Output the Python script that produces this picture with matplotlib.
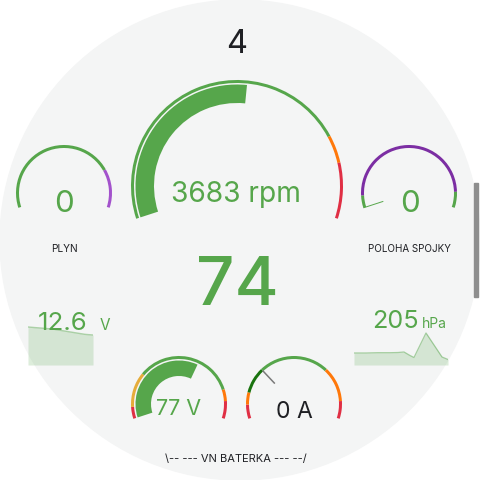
import matplotlib
matplotlib.use('Agg')
import matplotlib.pyplot as plt
from matplotlib.patches import Wedge, Circle, Rectangle
import numpy as np

plt.rcParams['font.family'] = ['Inter', 'DejaVu Sans']

# ---------------- data ----------------
gear = "4"
speed_value = 74

rpm_value = 3683
rpm_range = (0, 7000)
rpm_steps = [(0, 'green'), (5500, 'orange'), (6000, 'red')]

throttle_label = "PLYN"
throttle_value = 0
throttle_range = (0, 100)
throttle_steps = [(0, 'green'), (78, 'purple')]

clutch_label = "POLOHA SPOJKY"
clutch_value = 0
clutch_range = (0, 100)
clutch_steps = [(0, 'green'), (7, 'dark-purple'), (91, 'green')]

batt_value = 12.6
batt_series = [12.72, 12.71, 12.70, 12.69, 12.67, 12.65, 12.63, 12.61, 12.60]

pressure_value = 205
pressure_t = [0, 6, 12, 18, 22, 25, 28, 30, 36, 44, 47]
pressure_series = [192, 192, 192.3, 192.3, 192.5, 193, 189.5, 187.5, 212, 188, 185.5]

hv_voltage = 77
hv_range = (40, 100)
hv_steps = [(40, 'red'), (44, 'yellow'), (56, 'green'), (90, 'orange'), (94, 'red')]

hv_current = 0
cur_range = (-30, 70)
cur_steps = [(-30, 'red'), (-22, 'orange'), (-15, 'dark-green'), (0, 'green'), (40, 'orange'), (60, 'red')]

group_label = "\\-- --- VN BATERKA --- --/"

# ---------------- style ----------------
COL = {'green': '#56a64b', 'orange': '#ff780a', 'red': '#e02f44',
       'purple': '#a352cc', 'dark-purple': '#7c2ea3', 'dark-green': '#19730e',
       'yellow': '#e5ac3a'}
BG = '#f4f5f5'
DARK = '#1f2024'
A0, A1 = 198.0, -18.0

W = H = 480
fig = plt.figure(figsize=(4.8, 4.8), dpi=100, facecolor='white')

def px_axes(x0, y0, x1, y1, z=0):
    a = fig.add_axes([x0 / W, 1 - y1 / H, (x1 - x0) / W, (y1 - y0) / H], zorder=z)
    a.set_axis_off()
    a.patch.set_alpha(0)
    return a

# background
bg = px_axes(0, 0, W, H, z=0)
bg.set_xlim(0, W); bg.set_ylim(H, 0)
bg.add_patch(Circle((240, 240), 240, color=BG))
bg.add_patch(Rectangle((473.5, 183), 4.5, 114, color='#8e8e8e'))

# sparklines
sl = px_axes(28, 300, 93, 365, z=1)
xs = np.arange(len(batt_series))
sl.fill_between(xs, batt_series, 12.15, color=COL['green'], alpha=0.2, lw=0)
sl.plot(xs, batt_series, color=COL['green'], alpha=0.45, lw=1)
sl.set_xlim(0, len(batt_series) - 1); sl.set_ylim(12.15, 13.125)

sr = px_axes(354, 300, 448, 365, z=1)
sr.fill_between(pressure_t, pressure_series, 180, color=COL['green'], alpha=0.2, lw=0)
sr.plot(pressure_t, pressure_series, color=COL['green'], alpha=0.5, lw=0.9)
sr.set_xlim(pressure_t[0], pressure_t[-1]); sr.set_ylim(180, 245)

# main overlay
ax = px_axes(0, 0, W, H, z=2)
ax.set_xlim(0, W); ax.set_ylim(H, 0)

def wedge(cx, cy, r, w, a1, a2, color):
    ax.add_patch(Wedge((cx, cy), r, -a2, -a1, width=w, color=color, lw=0))

def gauge(cx, cy, R, lw, vrange, steps, value, bar=None, needle=None):
    vmin, vmax = vrange
    ang = lambda v: A0 - (A0 - A1) * (v - vmin) / (vmax - vmin)
    bounds = [s[0] for s in steps] + [vmax]
    for i, (v0, c) in enumerate(steps):
        wedge(cx, cy, R, lw, ang(bounds[i + 1]), ang(v0), COL[c])
    if bar is not None:
        ro, ri, c = bar
        wedge(cx, cy, ro, ro - ri, ang(value), ang(vmin), c)
    if needle is not None:
        r1, r2, c, w = needle
        a = np.radians(ang(value))
        ax.plot([cx + r1 * np.cos(a), cx + r2 * np.cos(a)],
                [cy - r1 * np.sin(a), cy - r2 * np.sin(a)], color=c, lw=w,
                solid_capstyle='butt')

# main rpm gauge
gauge(237, 186, 106, 3, rpm_range, rpm_steps, rpm_value, bar=(101.5, 83, COL['green']))
ax.text(236, 202, f"{rpm_value} rpm", ha='center', va='baseline', fontsize=20.3, color=COL['green'])

# top gear and speed
ax.text(237, 53, gear, ha='center', va='baseline', fontsize=23.5, color=DARK)
ax.text(237.5, 305, f"{speed_value}", ha='center', va='baseline', fontsize=48.5,
        color=COL['green'], fontweight='medium')

# throttle
gauge(64, 193, 48, 3, throttle_range, throttle_steps, throttle_value)
ax.text(64, 212, f"{throttle_value}", ha='center', va='baseline', fontsize=22.5, color=COL['green'])
ax.text(64, 252, throttle_label, ha='center', va='baseline', fontsize=7.3, color=DARK)

# clutch
gauge(409, 193, 48, 3, clutch_range, clutch_steps, clutch_value,
      needle=(48, 27, COL['green'], 0.7))
ax.text(409.5, 212, f"{clutch_value}", ha='center', va='baseline', fontsize=22.5, color=COL['green'])
ax.text(409, 252, clutch_label, ha='center', va='baseline', fontsize=7.1, color=DARK)

# battery voltage stat
ax.text(37.5, 330, f"{batt_value}", ha='left', va='baseline', fontsize=18.6, color=COL['green'])
ax.text(99.5, 330, "V", ha='left', va='baseline', fontsize=11, color=COL['green'])

# pressure stat
ax.text(372, 327.5, f"{pressure_value}", ha='left', va='baseline', fontsize=18.2, color=COL['green'])
ax.text(422, 327.5, "hPa", ha='left', va='baseline', fontsize=10, color=COL['green'])

# HV voltage
gauge(179, 404, 48, 3, hv_range, hv_steps, hv_voltage, bar=(43.5, 28, COL['green']))
ax.text(179, 415, f"{hv_voltage} V", ha='center', va='baseline', fontsize=15.5, color=COL['green'])

# HV current
gauge(294, 404, 48, 3, cur_range, cur_steps, hv_current, needle=(46, 28, '#7a7a7a', 1.1))
ax.text(294, 418, f"{hv_current} A", ha='center', va='baseline', fontsize=16.5, color=DARK)

ax.text(236, 462, group_label, ha='center', va='baseline', fontsize=8, color=DARK)

fig.savefig('out.png', dpi=100, facecolor='white')
